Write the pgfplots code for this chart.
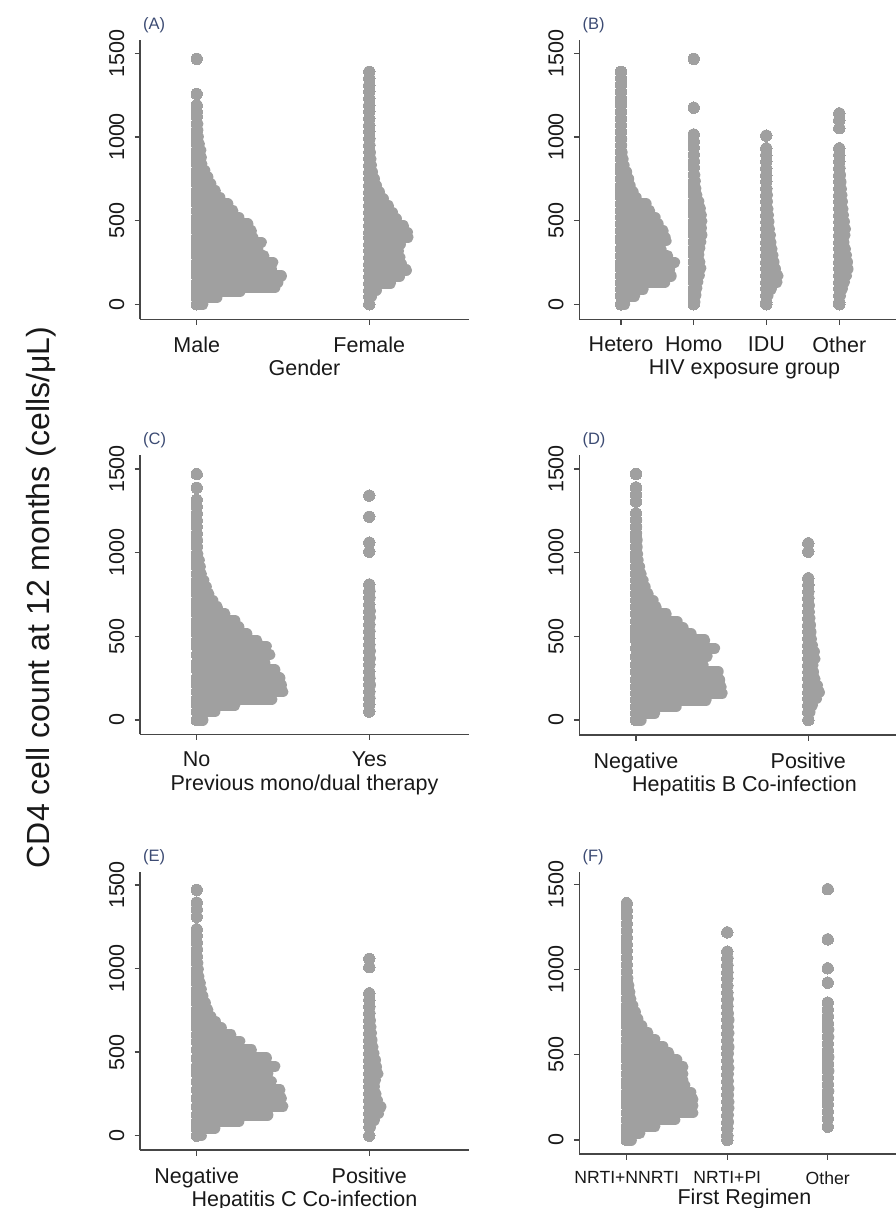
\documentclass[border=0pt]{standalone}
\usepackage{fontspec}
\setmainfont{Liberation Sans}
\usepackage{pgfplots}
\pgfplotsset{compat=1.18}
\definecolor{dotgray}{RGB}{160,160,160}
\definecolor{axgray}{RGB}{70,70,70}
\definecolor{txtcol}{RGB}{25,25,25}
\definecolor{lettercol}{RGB}{60,75,115}
\newcommand{\fs}[1]{\fontsize{#1}{#1}\selectfont}
\pgfplotsset{
  panel/.style={
    scale only axis, clip=false,
    axis x line=bottom, axis y line=left,
    axis line style={-, line width=1.6pt, draw=axgray},
    tick style={line width=1.3pt, draw=axgray},
    major tick length=5.5pt,
    tick align=outside,
    ytick={0,500,1000,1500},
    yticklabel style={xshift=-10pt, rotate=90, anchor=south, inner sep=0pt, font=\fs{21.5}, text=txtcol},
    xticklabel style={yshift=-12pt, anchor=north, inner sep=0pt, font=\fs{21.5}, text=txtcol},
    /pgf/number format/assume math mode=true,
    /pgf/number format/1000 sep={},
    xlabel style={font=\fs{21.5}, text=txtcol, inner sep=0pt, at={(axis description cs:0.5,0)}, anchor=north, yshift=-40.7pt},
  },
  dots/.style={only marks, color=dotgray, mark=*, mark size=5.7pt, mark options={draw=dotgray, fill=dotgray, line width=0pt},
    error bars/.cd, x dir=plus, x explicit, error mark=none,
    error bar style={line width=11.4pt, line cap=round, draw=dotgray}},
}
\newcommand{\dotcol}[2]{\addplot[dots] table[row sep=\\, x expr={#1}, y=y, x error=w]{#2};}
\newcommand{\plabel}[1]{\node[anchor=south west, inner sep=0pt, xshift=3pt, yshift=6.7pt, font=\fs{16.5}, text=lettercol] at (rel axis cs:0,1) {#1};}
\begin{document}
\begin{tikzpicture}
\useasboundingbox (0,0) rectangle (896pt,-1208pt);
\node[rotate=90, anchor=base, font=\fs{32}, text=txtcol] at (49.3pt,-597.5pt) {CD4 cell count at 12 months (cells/μL)};

% (A)
\begin{axis}[panel, at={(140pt,-319.3pt)}, anchor=south west, width=329pt, height=279.3pt,
  xmin=140, xmax=469, ymin=-89.6, ymax=1579.5,
  xtick={196.7,369.3}, xticklabels={Male,Female}, xlabel={Gender}]
\dotcol{196.7}{y w\\1467 0\\1257 0\\1190 0\\1150 0\\1120 0.5\\1080 1\\1040 1\\1000 1.5\\960 2.5\\920 4\\880 4.5\\840 5\\800 8\\760 11\\720 14\\680 18.5\\640 23\\600 31\\560 36\\520 42\\480 51\\440 54.5\\400 56\\370 64.5\\330 61\\290 67\\250 76\\210 74.5\\170 84.5\\130 81\\100 78\\75 43\\40 20\\0 6\\}
\dotcol{369.3}{y w\\1390 0\\1350 0\\1310 0\\1270 0\\1230 0\\1190 0\\1150 0\\1110 0\\1070 0\\1030 0\\990 0.5\\950 0.5\\910 1\\870 1.5\\830 2\\790 3\\750 5\\710 7\\670 10\\630 14\\590 19\\550 23\\510 27\\470 34\\430 38\\400 38.5\\360 31\\320 29\\280 30.5\\240 32\\205 37\\165 30\\125 21\\85 7\\45 2\\0 0\\}
\plabel{(A)}
\end{axis}

% (B)
\begin{axis}[panel, at={(579.3pt,-319.3pt)}, anchor=south west, width=330.4pt, height=279.3pt,
  xmin=579.3, xmax=909.7, ymin=-89.6, ymax=1579.5,
  xtick={621,693.7,766.3,839.3}, xticklabels={Hetero,Homo,IDU,Other}, xlabel={HIV exposure group}]
\dotcol{621}{y w\\1390 0\\1350 0\\1310 0\\1270 0\\1230 0\\1190 0\\1150 0\\1110 0\\1070 0\\1030 0\\990 0.5\\950 0.5\\910 1\\870 2\\830 3\\790 5.5\\750 7.5\\710 9\\670 12\\640 15\\600 25\\560 28.5\\520 34\\480 37\\440 42\\400 44\\380 45\\330 40\\290 46.5\\250 53.5\\210 48.5\\170 50\\130 43.5\\90 22\\50 13.5\\0 3.5\\}
\dotcol{693.7}{y w\\1467 0\\1175 0\\1015 0\\975 0\\935 0\\895 0.5\\855 0.5\\815 0.5\\775 1\\735 1.5\\695 2\\655 3\\615 5\\575 6.5\\535 7.5\\495 8\\455 7.5\\415 8\\375 7\\335 6\\295 5\\255 6\\215 7\\175 5.5\\135 4\\95 3\\55 2\\15 1\\0 0\\}
\dotcol{766.3}{y w\\1008 0\\932 0\\892 0\\852 0\\812 0\\772 0\\732 0\\692 0.5\\652 1\\612 1\\572 1.5\\532 2\\492 2.5\\452 3\\412 4\\372 4.5\\332 5.5\\292 6.5\\252 7.5\\212 9\\172 11.5\\132 10.5\\92 5\\52 1.5\\12 0\\0 0\\}
\dotcol{839.3}{y w\\1141 0\\1101 0\\1052 0\\932 0\\892 0\\852 0\\812 0.5\\772 1\\732 1.5\\692 2\\652 2.5\\612 3\\572 3.5\\532 4\\492 5\\452 6\\412 5.5\\372 4.5\\332 6\\292 7\\252 8\\212 8.5\\172 7\\132 5\\92 3\\52 1\\12 0\\0 0\\}
\plabel{(B)}
\end{axis}

% (C)
\begin{axis}[panel, at={(140pt,-734.3pt)}, anchor=south west, width=329pt, height=279.3pt,
  xmin=140, xmax=469, ymin=-85.5, ymax=1583.7,
  xtick={196.7,369.3}, xticklabels={No,Yes}, xlabel={Previous mono/dual therapy}]
\dotcol{196.7}{y w\\1470 0\\1388 0\\1315 0\\1275 0\\1235 0\\1195 0\\1155 0\\1115 0\\1075 0.5\\1035 0.5\\995 1\\955 2.5\\915 3.5\\875 4.5\\835 7\\795 9.5\\755 12\\715 16\\675 20.5\\635 28\\595 38\\555 42\\515 50\\475 60\\440 69.5\\390 73\\340 68\\300 78\\250 83\\210 84.5\\170 86\\125 75\\90 38\\50 18\\0 6\\}
\dotcol{369.3}{y w\\1341 0\\1215 0\\1060 0\\1006 0\\810 0\\770 0.5\\730 0.5\\690 0\\650 1\\610 1\\570 0.5\\530 0.5\\490 0\\450 0.5\\410 1\\370 1\\330 0.5\\290 0\\250 0.5\\210 1\\170 0.5\\130 0.5\\90 0\\50 0\\}
\plabel{(C)}
\end{axis}

% (D)
\begin{axis}[panel, at={(579.3pt,-735pt)}, anchor=south west, width=330.4pt, height=280pt,
  xmin=579.3, xmax=909.7, ymin=-89.6, ymax=1583.7,
  xtick={636,808.3}, xticklabels={Negative,Positive}, xlabel={Hepatitis B Co-infection}]
\dotcol{636}{y w\\1470 0\\1390 0\\1345 0\\1305 0\\1235 0\\1195 0.5\\1155 0.5\\1115 0.5\\1075 1\\1035 1\\995 1.5\\955 2\\915 3.5\\875 5\\835 7\\795 9\\755 12\\715 17\\675 20\\635 30\\590 41\\550 47\\515 55\\478 68.5\\428 78.5\\380 71\\330 67\\290 82\\240 83.5\\200 85\\160 86\\120 70\\80 40\\40 18.5\\0 5\\}
\dotcol{808.3}{y w\\1056 0\\1006 0\\847 0\\807 0\\767 0.5\\727 0.5\\687 1\\647 1\\607 1.5\\567 2\\527 2.5\\487 3\\447 4\\407 6\\367 6.5\\327 4.5\\287 5\\247 6.5\\207 9\\167 11\\127 8\\87 4\\47 1.5\\0 0\\}
\plabel{(D)}
\end{axis}

% (E)
\begin{axis}[panel, at={(140pt,-1150pt)}, anchor=south west, width=329pt, height=278.3pt,
  xmin=140, xmax=469, ymin=-85.6, ymax=1579.6,
  xtick={196.7,369.3}, xticklabels={Negative,Positive}, xlabel={Hepatitis C Co-infection}]
\dotcol{196.7}{y w\\1471 0\\1395 0\\1355 0\\1310 0\\1235 0\\1195 0\\1155 0.5\\1115 0.5\\1075 0.5\\1035 1\\995 1.5\\955 2\\915 3.5\\875 4.5\\835 6\\795 8.5\\755 11\\715 14\\685 18.5\\645 24.5\\605 34\\565 43\\515 54.5\\465 69.5\\415 78\\375 71\\325 74.5\\275 83\\225 84.5\\175 86\\125 71\\85 42\\45 18\\0 4.5\\}
\dotcol{369.3}{y w\\1058 0\\1008 0\\852 0\\812 0\\772 0.5\\732 0.5\\692 1\\652 1.5\\612 2\\572 2.5\\532 3.5\\492 4.5\\452 6\\412 7\\372 8.5\\332 6\\292 5\\252 6.5\\212 8\\172 11.5\\132 9\\92 5\\52 1\\0 0\\}
\plabel{(E)}
\end{axis}

% (F)
\begin{axis}[panel, at={(579.3pt,-1154pt)}, anchor=south west, width=330.4pt, height=282.3pt,
  xmin=579.3, xmax=909.7, ymin=-82.1, ymax=1573.9,
  xtick={626.7,727.3,827.7}, xticklabels={NRTI+NNRTI,NRTI+PI,Other},
  xticklabel style={font=\fs{17.6}},
  xlabel={First Regimen}, xlabel style={yshift=6.4pt}]
\dotcol{626.7}{y w\\1389 0\\1349 0\\1309 0\\1269 0\\1229 0\\1189 0\\1149 0\\1109 0\\1069 0\\1029 0.5\\989 0.5\\949 1\\909 2\\870 3\\830 4\\790 6\\750 8.5\\710 11\\670 15\\630 21\\590 28\\550 36\\510 42\\470 50\\430 56\\390 56\\350 56\\320 58\\280 64\\240 66\\200 66\\160 66\\120 48\\80 28\\40 13\\0 4.5\\}
\dotcol{727.3}{y w\\1218 0\\1105 0\\1065 0.5\\1025 0.5\\985 0.5\\945 0.5\\905 0.5\\865 0.5\\825 1\\785 0.5\\745 1\\705 1.5\\665 1\\625 1.5\\585 1\\545 1.5\\505 1\\465 1\\425 1.5\\385 1\\345 1\\305 1.5\\265 1\\225 1.5\\185 1.5\\145 1\\105 1\\65 0.5\\25 0.5\\0 0\\}
\dotcol{827.7}{y w\\1471 0\\1177 0\\1007 0\\923 0\\806 0\\766 0\\726 0.5\\686 0.5\\646 1\\606 1\\566 0.5\\526 0.5\\486 1\\446 0.5\\406 1\\366 0.5\\326 0.5\\286 1\\246 0.5\\206 0.5\\166 0.5\\126 0.5\\78 0\\}
\plabel{(F)}
\end{axis}
\end{tikzpicture}
\end{document}
